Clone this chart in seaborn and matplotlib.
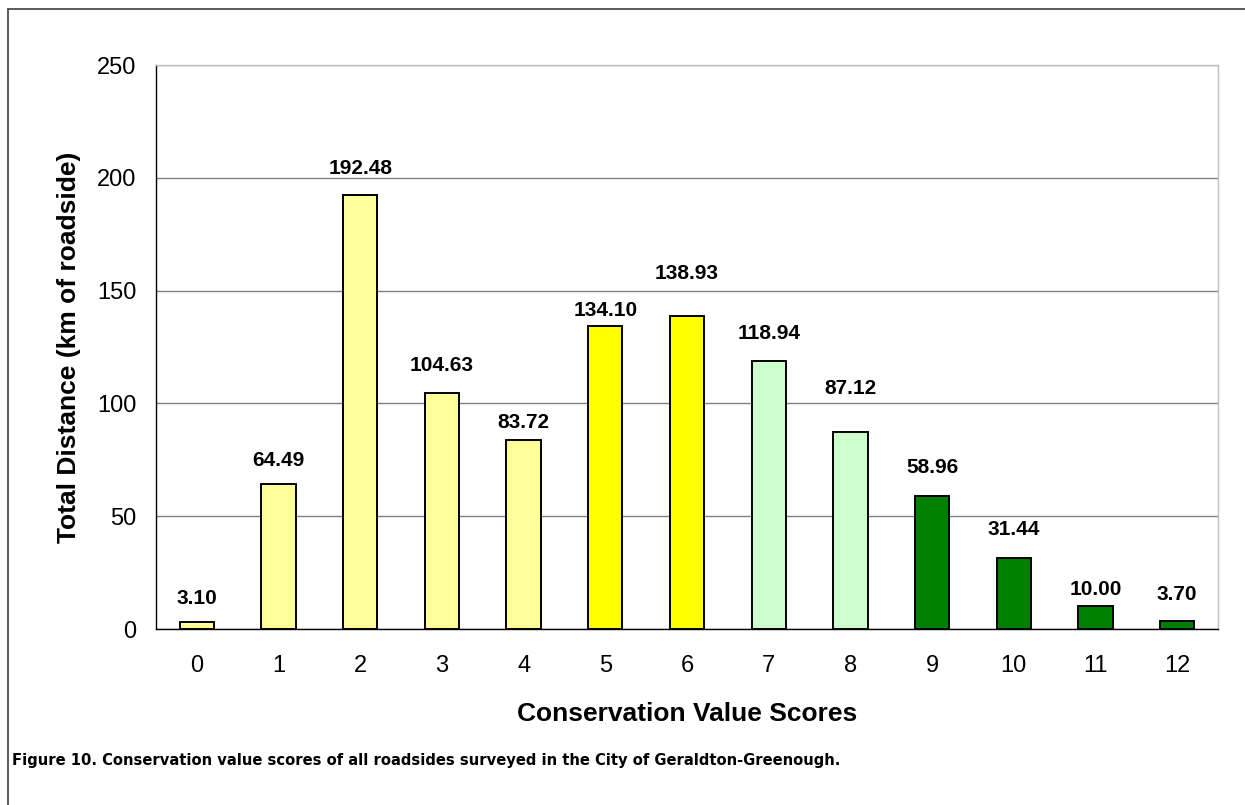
"""
Conservation value scores of roadsides - bar chart recreation.
"""

import matplotlib
matplotlib.use("Agg")
import matplotlib.pyplot as plt
from matplotlib.lines import Line2D
import seaborn as sns
import pandas as pd

# ------------------------------------------------------------------
# Data
# ------------------------------------------------------------------
scores = ["0", "1", "2", "3", "4", "5", "6", "7", "8", "9", "10", "11", "12"]
distance_km = [3.10, 64.49, 192.48, 104.63, 83.72, 134.10, 138.93,
               118.94, 87.12, 58.96, 31.44, 10.00, 3.70]
bar_colors = ["#FFFF99"] * 5 + ["#FFFF00"] * 2 + ["#CCFFCC"] * 2 + ["#008000"] * 4
# where each value label sits (hand-placed in the original)
label_y = [13.7, 74.9, 204.3, 116.6, 91.6, 141.4, 157.8,
           131.2, 106.4, 71.8, 43.9, 17.7, 15.5]

caption = ("Figure 10. Conservation value scores of all roadsides surveyed "
           "in the City of Geraldton-Greenough.")

df = pd.DataFrame({"score": scores, "distance": distance_km})

sns.set_style("white")
plt.rcParams["font.family"] = ["Liberation Sans", "DejaVu Sans"]
plt.rcParams["text.color"] = "black"
plt.rcParams["axes.labelcolor"] = "black"
plt.rcParams["xtick.color"] = "black"
plt.rcParams["ytick.color"] = "black"

fig = plt.figure(figsize=(12.45, 8.05), dpi=100)
ax = fig.add_axes([156 / 1245, 1 - 629 / 805, (1218 - 156) / 1245, (629 - 65) / 805])

sns.barplot(data=df, x="score", y="distance", hue="score", palette=bar_colors,
            legend=False, width=0.42, edgecolor="black", linewidth=1.4,
            saturation=1, ax=ax)

for i, (v, ly) in enumerate(zip(distance_km, label_y)):
    ax.text(i, ly, f"{v:.2f}", ha="center", va="center",
            fontsize=15, fontweight="bold", color="black")

ax.set_ylim(0, 250)
ax.set_xlim(-0.5, len(scores) - 0.5)
ax.set_yticks(range(0, 251, 50))
ax.yaxis.grid(True, color="#808080", linewidth=1)
ax.set_axisbelow(True)

# ticks between categories on the x axis
ax.set_xticks([i - 0.5 for i in range(len(scores) + 1)], minor=False)
ax.set_xticklabels([])
ax.set_xticks(range(len(scores)), minor=True)
ax.set_xticklabels(scores, minor=True, fontsize=17)
ax.tick_params(axis="x", which="major", direction="out", length=8, width=1, color="black")
ax.tick_params(axis="x", which="minor", length=0, pad=19)
ax.tick_params(axis="y", direction="out", length=8, width=1, color="black",
               labelsize=17, pad=6)

for side in ["left", "bottom"]:
    ax.spines[side].set_color("black")
    ax.spines[side].set_linewidth(1)
for side in ["top", "right"]:
    ax.spines[side].set_color("#C0C0C0")
    ax.spines[side].set_linewidth(1)

ax.set_xlabel("Conservation Value Scores", fontsize=19, fontweight="bold", labelpad=18)
ax.set_ylabel("Total Distance (km of roadside)", fontsize=19, fontweight="bold", labelpad=12)

# outer frame lines (top and left) of the report figure
fig.add_artist(Line2D([8 / 1245, 1], [1 - 9 / 805, 1 - 9 / 805],
                      transform=fig.transFigure, color="#404040", linewidth=1.2))
fig.add_artist(Line2D([8 / 1245, 8 / 1245], [0, 1 - 9 / 805],
                      transform=fig.transFigure, color="#404040", linewidth=1.2))

fig.text(12 / 1245, 1 - 760 / 805, caption, ha="left", va="center",
         fontsize=11.8, fontweight="bold", fontstretch="condensed",
         family=["DejaVu Sans"])

fig.savefig("out.png", dpi=100)
